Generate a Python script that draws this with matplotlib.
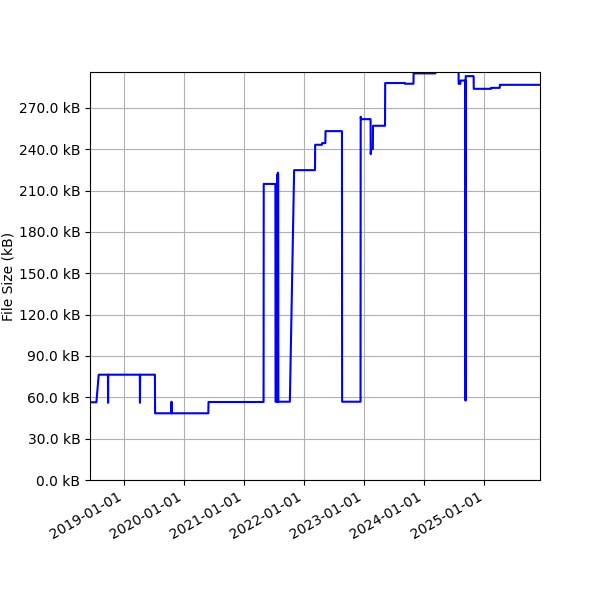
import pandas as pd
import matplotlib
matplotlib.use("Agg")
import matplotlib.pyplot as plt
import matplotlib.dates as mdates
from matplotlib.ticker import FuncFormatter

# commit dates and file size (kB)
dates = ["2018-06-08", "2018-07-17", "2018-07-31", "2018-09-25", "2018-09-26", "2018-09-27",
         "2019-04-07", "2019-04-08", "2019-04-09", "2019-07-08", "2019-07-09", "2019-10-16",
         "2019-10-17", "2019-10-18", "2020-05-28", "2020-05-29", "2021-04-29", "2021-04-30",
         "2021-07-10", "2021-07-11", "2021-07-20", "2021-07-21", "2021-07-22", "2021-07-24",
         "2021-07-25", "2021-07-27", "2021-07-28", "2021-10-06", "2021-11-01", "2022-03-08",
         "2022-03-09", "2022-04-19", "2022-04-20", "2022-05-10", "2022-05-11", "2022-08-19",
         "2022-08-20", "2022-12-10", "2022-12-11", "2022-12-12", "2022-12-13", "2023-02-09",
         "2023-02-10", "2023-02-12", "2023-02-23", "2023-02-24", "2023-05-08", "2023-05-09",
         "2023-09-05", "2023-09-06", "2023-10-28", "2023-10-29", "2024-03-10", "2024-03-11",
         "2024-07-28", "2024-07-29", "2024-08-08", "2024-08-09", "2024-09-08", "2024-09-09",
         "2024-09-10", "2024-10-28", "2024-10-29", "2025-02-11", "2025-02-12", "2025-04-05",
         "2025-04-06", "2025-12-06"]
sizes_kb = [56.4, 56.4, 76.4, 76.4, 56.0, 76.4,
            76.4, 56.0, 76.4, 76.4, 48.4, 48.4,
            56.8, 48.4, 48.4, 56.6, 56.6, 214.8,
            214.8, 56.8, 56.8, 221.5, 56.8, 56.8,
            223.0, 222.0, 56.8, 56.8, 224.8, 224.8,
            243.2, 243.2, 244.4, 244.4, 253.1, 253.1,
            56.8, 56.8, 263.5, 263.0, 261.8, 261.8,
            236.4, 240.0, 240.0, 257.0, 257.0, 288.0,
            288.0, 287.5, 287.5, 295.0, 295.0, 305.0,
            305.0, 287.4, 287.4, 289.8, 289.8, 57.6,
            293.0, 293.0, 283.8, 283.8, 284.5, 284.5,
            286.7, 286.7]
y_ticks = [0, 30, 60, 90, 120, 150, 180, 210, 240, 270]

x = pd.to_datetime(dates)

fig = plt.figure(figsize=(6, 6), dpi=100)
ax = fig.add_axes([0.15, 0.2, 0.75, 0.68])
ax.plot(x, sizes_kb, color="blue", linewidth=1.5)

ax.set_ylim(0, 296)
ax.set_xlim(x[0], x[-1])
ax.set_yticks(y_ticks)
ax.yaxis.set_major_formatter(FuncFormatter(lambda v, p: "{:.1f} kB".format(v)))
ax.set_ylabel("File Size (kB)", labelpad=2)

ax.xaxis.set_major_locator(mdates.YearLocator())
ax.xaxis.set_major_formatter(mdates.DateFormatter("%Y-%m-%d"))
for lab in ax.get_xticklabels():
    lab.set_rotation(30)
    lab.set_ha("right")

ax.grid(True)
fig.savefig("out.png")
